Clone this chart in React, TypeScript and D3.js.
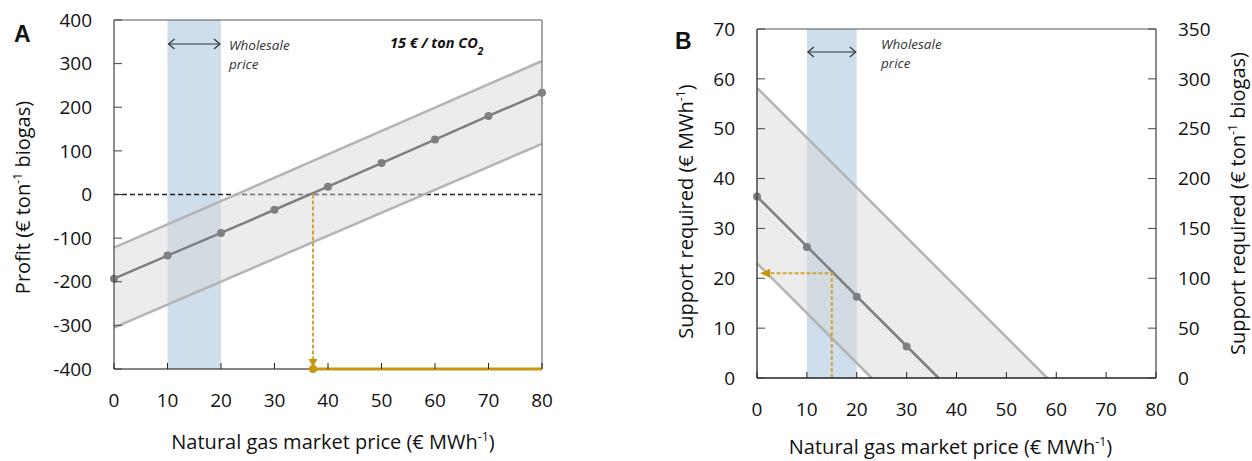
import React from "react";
import * as d3 from "d3";

// ---------- data ----------
const xTicks = [0, 10, 20, 30, 40, 50, 60, 70, 80];
const profitTicks = [-400, -300, -200, -100, 0, 100, 200, 300, 400];
const supportTicks = [0, 10, 20, 30, 40, 50, 60, 70];
const supportTonTicks = [0, 50, 100, 150, 200, 250, 300, 350];

const wholesaleRange = [10, 20];

// Panel A: profit vs gas price
const profitX = [0, 10, 20, 30, 40, 50, 60, 70, 80];
const profitMid = [-193, -140, -88, -35, 18, 72, 126, 180, 233];
const profitUpperX = [0, 80];
const profitUpper = [-122, 306];
const profitLowerX = [0, 80];
const profitLower = [-305, 116];
const breakEvenPrice = 37.2;

// Panel B: support required vs gas price
const supportMidLineX = [0, 36.4];
const supportMidLine = [36.4, 0];
const supportMarkX = [0, 10, 20, 30];
const supportMark = [36.4, 26.3, 16.3, 6.3];
const supportUpperX = [0, 58.2];
const supportUpper = [58.2, 0];
const supportLowerX = [0, 23];
const supportLower = [23, 0];
const supportPointX = 15;
const supportPointY = 21;

const FONT = "'Open Sans', 'Noto Sans', sans-serif";
const ORANGE = "#c8960c";
const ORANGE_L = "#d3a43a";
const BLUE = "#cfdeed";
const MID = "#7f7f7f";
const BAND_LINE = "#b4b4b4";
const TICK_FS = 19;
const TITLE_FS = 20;

function Sup({ t }: { t: string }) {
  return (
    <tspan baselineShift="super" fontSize="0.62em">
      {t}
    </tspan>
  );
}

function PanelA() {
  const L = 114, R = 542, T = 20, B = 369;
  const x = d3.scaleLinear().domain([0, 80]).range([L, R]);
  const y = d3.scaleLinear().domain([-400, 400]).range([B, T]);
  const line = d3.line<[number, number]>().x((d) => x(d[0])).y((d) => y(d[1]));
  const mid = profitX.map((v, i) => [v, profitMid[i]] as [number, number]);
  const up = profitUpperX.map((v, i) => [v, profitUpper[i]] as [number, number]);
  const lo = profitLowerX.map((v, i) => [v, profitLower[i]] as [number, number]);
  const band = d3
    .area<number>()
    .x((d) => x(d))
    .y0((d) => y(profitLower[0] + ((profitLower[1] - profitLower[0]) * d) / 80))
    .y1((d) => y(profitUpper[0] + ((profitUpper[1] - profitUpper[0]) * d) / 80));
  return (
    <g fontFamily={FONT}>
      <rect x={x(wholesaleRange[0])} y={T} width={x(wholesaleRange[1]) - x(wholesaleRange[0])} height={B - T} fill={BLUE} />
      <line x1={x(0)} x2={x(80)} y1={y(0)} y2={y(0)} stroke="#222" strokeWidth={1.5} strokeDasharray="5,3" />
      <path d={band([0, 80]) || ""} fill="#d4d4d4" fillOpacity={0.45} />
      <path d={line(up) || ""} fill="none" stroke={BAND_LINE} strokeWidth={2.5} />
      <path d={line(lo) || ""} fill="none" stroke={BAND_LINE} strokeWidth={2.5} />
      <path d={line(mid) || ""} fill="none" stroke={MID} strokeWidth={2.5} />
      {mid.map((d, i) => (
        <circle key={i} cx={x(d[0])} cy={y(d[1])} r={4} fill={MID} />
      ))}
      {/* axes box */}
      <line x1={L} x2={R} y1={T} y2={T} stroke="#555" strokeWidth={1.2} />
      <line x1={R} x2={R} y1={T} y2={B} stroke="#8a8a8a" strokeWidth={1.5} />
      <line x1={L} x2={L} y1={T} y2={B} stroke="#444" strokeWidth={1.2} />
      <line x1={L} x2={R} y1={B} y2={B} stroke="#111" strokeWidth={1.2} />
      {/* orange */}
      <line x1={x(breakEvenPrice)} x2={x(breakEvenPrice)} y1={y(0)} y2={y(-400) - 8} stroke={ORANGE_L} strokeWidth={2} strokeDasharray="4,2" />
      <line x1={x(breakEvenPrice)} x2={x(80)} y1={B} y2={B} stroke={ORANGE} strokeWidth={3} />
      <path d={`M${x(breakEvenPrice) - 4.5},${B - 10} L${x(breakEvenPrice) + 4.5},${B - 10} L${x(breakEvenPrice)},${B - 2} Z`} fill={ORANGE} />
      <circle cx={x(breakEvenPrice)} cy={B} r={4} fill={ORANGE} />
      {/* ticks */}
      {profitTicks.map((t) => (
        <g key={t}>
          <line x1={L} x2={L + 8} y1={y(t)} y2={y(t)} stroke="#444" />
          <text x={L - 22} y={y(t)} dy="0.35em" textAnchor="end" fontSize={TICK_FS} fill="#111">{t}</text>
        </g>
      ))}
      {xTicks.map((t) => (
        <g key={t}>
          <line x1={x(t)} x2={x(t)} y1={B} y2={B - 6} stroke="#222" />
          <text x={x(t)} y={B + 38} textAnchor="middle" fontSize={TICK_FS} fill="#111">{t}</text>
        </g>
      ))}
      <text x={(L + R) / 2 + 5} y={449} textAnchor="middle" fontSize={TITLE_FS} fill="#111">
        Natural gas market price (€ MWh<Sup t="-1" />)
      </text>
      <text transform={`translate(30,${(T + B) / 2 + 3}) rotate(-90)`} textAnchor="middle" fontSize={TITLE_FS} fill="#111">
        Profit (€ ton<Sup t="-1" /> biogas)
      </text>
      {/* annotations */}
      <text x={14} y={42} fontSize={23} fontWeight="bold" fill="#111" fontFamily="'Liberation Sans', Arial, sans-serif">A</text>
      <text x={390} y={48} fontSize={14.5} fontWeight="bold" fontStyle="italic" fill="#111">
        15 € / ton CO<tspan baselineShift="sub" fontSize="0.7em">2</tspan>
      </text>
      <g stroke="#333" strokeWidth={1.2} fill="none">
        <line x1={x(10) + 1} x2={x(20) - 1} y1={44} y2={44} />
        <path d={`M${x(10) + 7},${39} L${x(10) + 1},44 L${x(10) + 7},${49}`} />
        <path d={`M${x(20) - 7},${39} L${x(20) - 1},44 L${x(20) - 7},${49}`} />
      </g>
      <text x={229} y={50} fontSize={13.5} fontStyle="italic" fill="#333">Wholesale</text>
      <text x={229} y={69} fontSize={13.5} fontStyle="italic" fill="#333">price</text>
    </g>
  );
}

function PanelB() {
  const L = 757, R = 1156, T = 29, B = 378;
  const x = d3.scaleLinear().domain([0, 80]).range([L, R]);
  const y = d3.scaleLinear().domain([0, 70]).range([B, T]);
  const y2 = d3.scaleLinear().domain([0, 350]).range([B, T]);
  const line = d3.line<[number, number]>().x((d) => x(d[0])).y((d) => y(d[1]));
  const mid = supportMidLineX.map((v, i) => [v, supportMidLine[i]] as [number, number]);
  const up = supportUpperX.map((v, i) => [v, supportUpper[i]] as [number, number]);
  const lo = supportLowerX.map((v, i) => [v, supportLower[i]] as [number, number]);
  const marks = supportMarkX.map((v, i) => [v, supportMark[i]] as [number, number]);
  const bandPoly: [number, number][] = [up[0], up[1], lo[1], lo[0]];
  return (
    <g fontFamily={FONT}>
      <rect x={x(wholesaleRange[0])} y={T} width={x(wholesaleRange[1]) - x(wholesaleRange[0])} height={B - T} fill={BLUE} />
      <path d={(line(bandPoly) || "") + "Z"} fill="#d4d4d4" fillOpacity={0.45} />
      <path d={line(up) || ""} fill="none" stroke={BAND_LINE} strokeWidth={2.5} />
      <path d={line(lo) || ""} fill="none" stroke={BAND_LINE} strokeWidth={2.5} />
      <path d={line(mid) || ""} fill="none" stroke={MID} strokeWidth={2.5} />
      {marks.map((d, i) => (
        <circle key={i} cx={x(d[0])} cy={y(d[1])} r={4} fill={MID} />
      ))}
      {/* orange */}
      <path
        d={`M${x(supportPointX)},${B} L${x(supportPointX)},${y(supportPointY)} L${x(0) + 10},${y(supportPointY)}`}
        fill="none"
        stroke={ORANGE_L}
        strokeWidth={2}
        strokeDasharray="4,2"
      />
      <path d={`M${x(0) + 3},${y(supportPointY)} L${x(0) + 13},${y(supportPointY) - 4.5} L${x(0) + 13},${y(supportPointY) + 4.5} Z`} fill={ORANGE} />
      {/* box */}
      <line x1={L} x2={R} y1={T} y2={T} stroke="#555" strokeWidth={1.2} />
      <line x1={R} x2={R} y1={T} y2={B} stroke="#666" strokeWidth={1.5} />
      <line x1={L} x2={L} y1={T} y2={B} stroke="#444" strokeWidth={1.5} />
      <line x1={L} x2={R} y1={B} y2={B} stroke="#222" strokeWidth={1.5} />
      {supportTicks.map((t) => (
        <g key={t}>
          <line x1={L} x2={L + 8} y1={y(t)} y2={y(t)} stroke="#444" />
          <text x={735} y={y(t)} dy="0.35em" textAnchor="end" fontSize={TICK_FS} fill="#111">{t}</text>
        </g>
      ))}
      {supportTonTicks.map((t) => (
        <g key={t}>
          <line x1={R} x2={R - 8} y1={y2(t)} y2={y2(t)} stroke="#444" />
          <text x={1178} y={y2(t)} dy="0.35em" textAnchor="start" fontSize={TICK_FS} fill="#111">{t}</text>
        </g>
      ))}
      {xTicks.map((t) => (
        <g key={t}>
          <line x1={x(t)} x2={x(t)} y1={B} y2={B - 6} stroke="#222" />
          <text x={x(t)} y={B + 38} textAnchor="middle" fontSize={TICK_FS} fill="#111">{t}</text>
        </g>
      ))}
      <text x={(L + R) / 2 - 6} y={454} textAnchor="middle" fontSize={TITLE_FS} fill="#111">
        Natural gas market price (€ MWh<Sup t="-1" />)
      </text>
      <text transform={`translate(693,${(T + B) / 2 + 8}) rotate(-90)`} textAnchor="middle" fontSize={TITLE_FS} fill="#111">
        Support required (€ MWh<Sup t="-1" />)
      </text>
      <text transform={`translate(1245,${(T + B) / 2}) rotate(-90)`} textAnchor="middle" fontSize={TITLE_FS} fill="#111">
        Support required (€ ton<Sup t="-1" /> biogas)
      </text>
      <text x={675} y={49} fontSize={23} fontWeight="bold" fill="#111" fontFamily="'Liberation Sans', Arial, sans-serif">B</text>
      <g stroke="#333" strokeWidth={1.2} fill="none">
        <line x1={x(10) + 1} x2={x(20) - 1} y1={52} y2={52} />
        <path d={`M${x(10) + 7},${47} L${x(10) + 1},52 L${x(10) + 7},${57}`} />
        <path d={`M${x(20) - 7},${47} L${x(20) - 1},52 L${x(20) - 7},${57}`} />
      </g>
      <text x={881} y={49} fontSize={13.5} fontStyle="italic" fill="#333">Wholesale</text>
      <text x={881} y={68} fontSize={13.5} fontStyle="italic" fill="#333">price</text>
    </g>
  );
}

export default function App() {
  return (
    <svg
      width={1252}
      height={461}
      viewBox="0 0 1252 461"
      style={{ position: "absolute", left: 0, top: 0, background: "#fff" }}
    >
      <rect width={1252} height={461} fill="#fff" />
      <PanelA />
      <PanelB />
    </svg>
  );
}
